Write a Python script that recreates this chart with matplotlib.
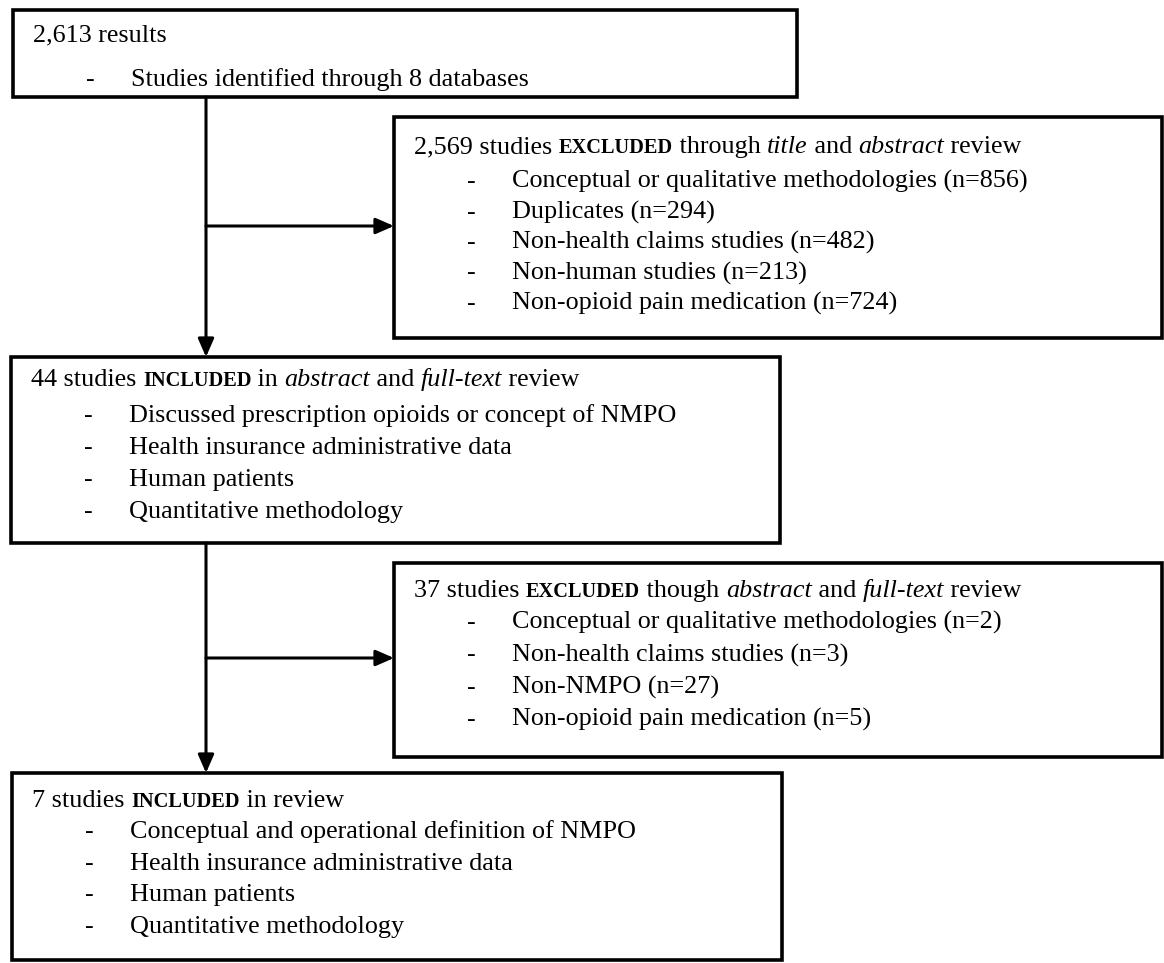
import matplotlib
matplotlib.use("Agg")
import matplotlib.pyplot as plt
from matplotlib.patches import Rectangle

# ---- content ----
# heading segments: (text, style)  r=regular, b=bold small, i=italic
head_identified = [("2,613 results", "r")]
items_identified = ["Studies identified through 8 databases"]

head_excl1 = [("2,569 studies ", "r"), ("EXCLUDED", "b"), (" through ", "r"),
              ("title", "i"), (" and ", "r"), ("abstract", "i"), (" review", "r")]
items_excl1 = ["Conceptual or qualitative methodologies (n=856)",
               "Duplicates (n=294)",
               "Non-health claims studies (n=482)",
               "Non-human studies (n=213)",
               "Non-opioid pain medication (n=724)"]

head_incl1 = [("44 studies ", "r"), ("INCLUDED", "b"), (" in ", "r"),
              ("abstract", "i"), (" and ", "r"), ("full-text", "i"), (" review", "r")]
items_incl1 = ["Discussed prescription opioids or concept of NMPO",
               "Health insurance administrative data",
               "Human patients",
               "Quantitative methodology"]

head_excl2 = [("37 studies ", "r"), ("EXCLUDED", "b"), (" though ", "r"),
              ("abstract", "i"), (" and ", "r"), ("full-text", "i"), (" review", "r")]
items_excl2 = ["Conceptual or qualitative methodologies (n=2)",
               "Non-health claims studies (n=3)",
               "Non-NMPO (n=27)",
               "Non-opioid pain medication (n=5)"]

head_incl2 = [("7 studies ", "r"), ("INCLUDED", "b"), (" in review", "r")]
items_incl2 = ["Conceptual and operational definition of NMPO",
               "Health insurance administrative data",
               "Human patients",
               "Quantitative methodology"]

# ---- layout (pixel space, y down) ----
W, H = 1164, 963
FONT = "Liberation Serif"
FS = 18.8
BOX_LW = 2.6
LINE_LW = 2.2

# (x0, y0, x1, y1, heading baseline, first item baseline, item step)
boxes = [
    (13, 10, 797, 97, 41, 86, 32, head_identified, items_identified),
    (394, 117, 1162, 338, 153, 188, 30.5, head_excl1, items_excl1),
    (11, 357, 780, 543, 386, 422, 32, head_incl1, items_incl1),
    (394, 563, 1162, 757, 597, 629, 32.3, head_excl2, items_excl2),
    (12, 773, 782, 960, 807, 838, 31.7, head_incl2, items_incl2),
]

fig = plt.figure(figsize=(W / 100, H / 100), dpi=100)
ax = fig.add_axes([0, 0, 1, 1])
ax.set_xlim(0, W)
ax.set_ylim(H, 0)
ax.axis("off")
renderer = fig.canvas.get_renderer()


def style_kw(st):
    if st == "b":
        return dict(fontsize=FS * 0.78, fontweight="bold")
    if st == "i":
        return dict(fontsize=FS, fontstyle="italic")
    return dict(fontsize=FS)


def seg_width(txt, kw):
    # sandwich between bars so leading/trailing spaces count
    t1 = ax.text(0, 0, "|" + txt + "|", family=FONT, **kw)
    t2 = ax.text(0, 0, "||", family=FONT, **kw)
    w = t1.get_window_extent(renderer).width - t2.get_window_extent(renderer).width
    t1.remove()
    t2.remove()
    return w


def draw_rich(x, y, segments):
    for txt, st in segments:
        kw = style_kw(st)
        ax.text(x, y, txt, family=FONT, va="baseline", ha="left", **kw)
        x += seg_width(txt, kw)


for x0, y0, x1, y1, hb, ib, step, head, items in boxes:
    ax.add_patch(Rectangle((x0, y0), x1 - x0, y1 - y0, fill=False,
                           edgecolor="black", linewidth=BOX_LW))
    draw_rich(x0 + 20, hb, head)
    for k, it in enumerate(items):
        yy = ib + k * step
        ax.text(x0 + 73, yy, "-", family=FONT, fontsize=FS, va="baseline")
        ax.text(x0 + 118, yy, it, family=FONT, fontsize=FS, va="baseline")


def arrow(p0, p1):
    ax.annotate("", xy=p1, xytext=p0,
                arrowprops=dict(arrowstyle="-|>,head_length=0.55,head_width=0.24",
                                mutation_scale=20, lw=LINE_LW, color="black",
                                shrinkA=0, shrinkB=0))


VX = 206
arrow((VX, 97), (VX, 357))
arrow((VX, 226), (394, 226))
arrow((VX, 543), (VX, 773))
arrow((VX, 658), (394, 658))

fig.savefig("out.png", dpi=100, facecolor="white")
